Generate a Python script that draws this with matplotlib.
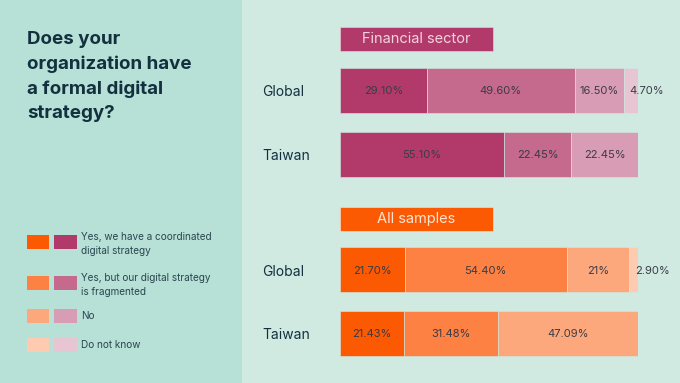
import matplotlib.pyplot as plt
from matplotlib.patches import Rectangle

plt.rcParams['font.family'] = ['Inter', 'DejaVu Sans']

# 数据
groups = ["Financial sector", "All samples"]
regions = ["Global", "Taiwan"]
fin_global = [29.10, 49.60, 16.50, 4.70]
fin_taiwan = [55.10, 22.45, 22.45]
all_global = [21.70, 54.40, 21.0, 2.90]
all_taiwan = [21.43, 31.48, 47.09]
fin_labels_global = ["29.10%", "49.60%", "16.50%", "4.70%"]
fin_labels_taiwan = ["55.10%", "22.45%", "22.45%"]
all_labels_global = ["21.70%", "54.40%", "21%", "2.90%"]
all_labels_taiwan = ["21.43%", "31.48%", "47.09%"]
legend_labels = ["Yes, we have a coordinated\ndigital strategy",
                 "Yes, but our digital strategy\nis fragmented",
                 "No", "Do not know"]

pink = ['#b23a6a', '#c56a8c', '#d99cb5', '#e8c5d3']
orange = ['#fc5a02', '#fd8142', '#fda87c', '#fecab0']
left_bg = '#b7e0d6'
right_bg = '#d0eae2'
dark = '#12303e'

W, H = 680, 383
fig = plt.figure(figsize=(W / 100, H / 100), dpi=100)
fig.patch.set_facecolor(right_bg)
fig.patches.append(Rectangle((0, 0), 242 / W, 1, transform=fig.transFigure,
                             facecolor=left_bg, edgecolor='none', zorder=0))

# 标题
fig.text(27 / W, 1 - 31 / H, "Does your\norganization have\na formal digital\nstrategy?",
         fontsize=13.5, fontweight='bold', color=dark, va='top', ha='left',
         linespacing=1.55)

# 图例
leg_y = [242, 283, 316, 345]
for i, lab in enumerate(legend_labels):
    y = leg_y[i]
    fig.patches.append(Rectangle((27 / W, 1 - (y + 7) / H), 22 / W, 14 / H,
                                 transform=fig.transFigure, facecolor=orange[i],
                                 edgecolor='none'))
    fig.patches.append(Rectangle((54 / W, 1 - (y + 7) / H), 23 / W, 14 / H,
                                 transform=fig.transFigure, facecolor=pink[i],
                                 edgecolor='none'))
    ty = y + 2 if '\n' in lab else y
    fig.text(81 / W, 1 - ty / H, lab, fontsize=7.2, color='#2a4650',
             va='center', ha='left', linespacing=1.4)

# 条形图
ax = fig.add_axes([340 / W, 0, 298 / W, 1])
ax.set_xlim(0, 100)
ax.set_ylim(H, 0)
ax.axis('off')

header_y = [38.8, 218.5]
row_y = [[90.2, 154.2], [269.5, 333.3]]
header_fc = [pink[0], orange[0]]
header_tc = ['#f3d3df', '#fde3d3']
data = [[fin_global, fin_taiwan], [all_global, all_taiwan]]
labels = [[fin_labels_global, fin_labels_taiwan], [all_labels_global, all_labels_taiwan]]
palettes = [pink, orange]

for g in range(2):
    ax.barh(header_y[g], 51.3, height=24, left=0, color=header_fc[g],
            edgecolor=header_tc[g], linewidth=0.4)
    ax.text(25.6, header_y[g], groups[g], fontsize=10.5, color=header_tc[g],
            ha='center', va='center')
    for r in range(2):
        vals = data[g][r]
        left = 0
        for k, v in enumerate(vals):
            ax.barh(row_y[g][r], v, height=45, left=left, color=palettes[g][k],
                    edgecolor=right_bg, linewidth=0.4)
            if v < 6:
                ax.text(left + 2, row_y[g][r] + 1, labels[g][r][k], fontsize=8,
                        color='#3b3a45', ha='left', va='center', clip_on=False)
            else:
                ax.text(left + v / 2, row_y[g][r] + 1, labels[g][r][k], fontsize=8,
                        color='#3b3a45', ha='center', va='center')
            left += v
        fig.text(262 / W, 1 - (row_y[g][r] + 2) / H, regions[r], fontsize=10,
                 color=dark, ha='left', va='center')

plt.savefig("out.png", dpi=100, facecolor=fig.get_facecolor())
